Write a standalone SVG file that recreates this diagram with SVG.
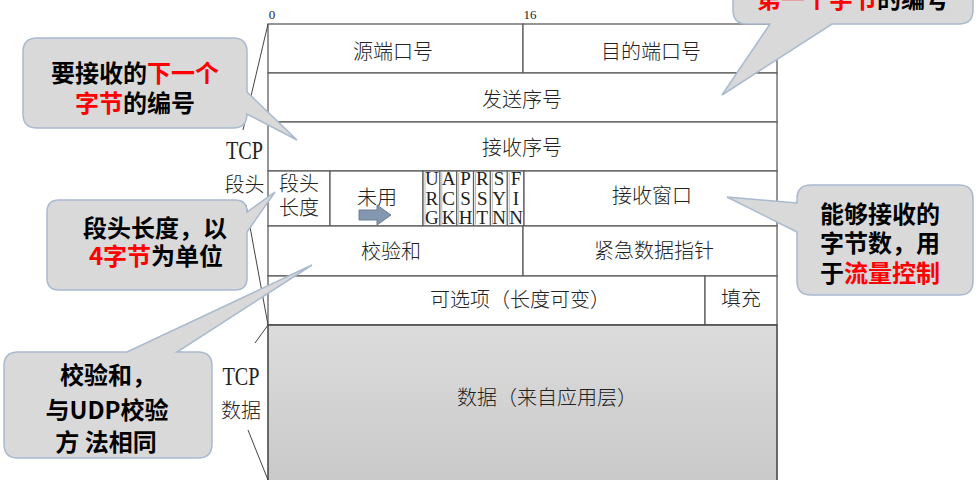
<svg xmlns="http://www.w3.org/2000/svg" width="977" height="480" viewBox="0 0 977 480">
<style>
.ln{stroke:#5e5e5e;stroke-width:1.3;fill:none}
.cell{fill:#ffffff;stroke:#5e5e5e;stroke-width:1.3}
.t{font-family:"Noto Sans CJK SC","Noto Sans",sans-serif;font-size:20px;font-weight:300;fill:#222;text-anchor:middle}
.s{font-family:"Liberation Serif","DejaVu Serif",serif;fill:#222;text-anchor:middle}
.fl{font-family:"Liberation Serif","DejaVu Serif",serif;font-size:19px;fill:#222;text-anchor:middle}
.co{fill:#d9d9d9;stroke:#a9b9cf;stroke-width:1.5}
.ct{font-family:"Noto Sans CJK SC","Liberation Sans",sans-serif;font-size:24px;font-weight:bold;fill:#000;text-anchor:middle}
.r{fill:#ff0000}
.br{stroke:#444;stroke-width:1;fill:none}
</style>
<defs>
<linearGradient id="gd" x1="0" y1="0" x2="0" y2="1">
<stop offset="0" stop-color="#dcdcdc"/>
<stop offset="1" stop-color="#c9c9c9"/>
</linearGradient>
</defs>
<rect width="977" height="480" fill="#ffffff"/>

<g id="scale">
<text class="s" x="272" y="19" font-size="13">0</text>
<text class="s" x="530" y="19" font-size="13">16</text>
</g>

<g id="row1">
<rect id="src-port" class="cell" x="268" y="24" width="255" height="49"/>
<text class="t" x="393" y="59">源端口号</text>
<rect id="dst-port" class="cell" x="523" y="24" width="254" height="49"/>
<text class="t" x="651" y="59">目的端口号</text>
</g>
<g id="seq">
<rect class="cell" x="268" y="73" width="509" height="49"/>
<text class="t" x="522" y="107">发送序号</text>
</g>
<g id="ack">
<rect class="cell" x="268" y="122" width="509" height="49"/>
<text class="t" x="522" y="155">接收序号</text>
</g>
<g id="row4">
<rect id="hlen" class="cell" x="268" y="171" width="62" height="55"/>
<text class="t" x="299" y="191" font-size="16">段头</text>
<text class="t" x="299" y="215" font-size="16">长度</text>
<rect id="unused" class="cell" x="330" y="171" width="93" height="55"/>
<text class="t" x="377" y="205">未用</text>
<path d="M359,210 H377 V205 L391,215 L377,225 V220 H359 Z" fill="#8497b0" stroke="#6d7f95" stroke-width="1"/>
<g id="flags">
<rect class="cell" x="423" y="171" width="101" height="55"/>
<path class="ln" d="M439.8,171V226M456.7,171V226M473.5,171V226M490.3,171V226M507.2,171V226"/>
<path d="M425,172.5V224.5M441.8,172.5V224.5M458.7,172.5V224.5M475.5,172.5V224.5M492.3,172.5V224.5M509.2,172.5V224.5" stroke="#999" stroke-width="0.7" fill="none"/>
<text class="fl" x="431.8" y="185">U</text><text class="fl" x="431.8" y="204.5">R</text><text class="fl" x="431.8" y="224">G</text>
<text class="fl" x="448.6" y="185">A</text><text class="fl" x="448.6" y="204.5">C</text><text class="fl" x="448.6" y="224">K</text>
<text class="fl" x="465.5" y="185">P</text><text class="fl" x="465.5" y="204.5">S</text><text class="fl" x="465.5" y="224">H</text>
<text class="fl" x="482.3" y="185">R</text><text class="fl" x="482.3" y="204.5">S</text><text class="fl" x="482.3" y="224">T</text>
<text class="fl" x="499.1" y="185">S</text><text class="fl" x="499.1" y="204.5">Y</text><text class="fl" x="499.1" y="224">N</text>
<text class="fl" x="516" y="185">F</text><text class="fl" x="516" y="204.5">I</text><text class="fl" x="516" y="224">N</text>
</g>
<rect id="window" class="cell" x="524" y="171" width="253" height="55"/>
<text class="t" x="652" y="203">接收窗口</text>
</g>
<g id="row5">
<rect id="checksum" class="cell" x="268" y="226" width="255" height="50"/>
<text class="t" x="391" y="259">校验和</text>
<rect id="urgent" class="cell" x="523" y="226" width="254" height="50"/>
<text class="t" x="654" y="258">紧急数据指针</text>
</g>
<g id="row6">
<rect id="options" class="cell" x="268" y="276" width="437" height="49"/>
<text class="t" x="520" y="307">可选项（长度可变）</text>
<rect id="padding" class="cell" x="705" y="276" width="72" height="49"/>
<text class="t" x="741" y="306">填充</text>
</g>
<g id="data">
<rect x="268" y="325" width="509" height="160" fill="url(#gd)" stroke="#4a4a4a" stroke-width="1.6"/>
<text class="t" x="547" y="405">数据（来自应用层）</text>
</g>

<g id="connectors">
<path class="br" d="M268,24 L243,130"/>
<path class="br" d="M246,205 L268,325"/>
<path class="br" d="M268,325 L255,343"/>
<path class="br" d="M248,430 L268,480"/>
</g>

<g id="label-header">
<text class="s" x="244.5" y="159" font-size="25" textLength="37" lengthAdjust="spacingAndGlyphs">TCP</text>
<text class="t" x="244.5" y="192" font-size="19">段头</text>
</g>
<g id="label-data">
<text class="s" x="241" y="385" font-size="25" textLength="37" lengthAdjust="spacingAndGlyphs">TCP</text>
<text class="t" x="241" y="418" font-size="19">数据</text>
</g>

<g id="callout-ack">
<path class="co" d="M37,38 H233 Q247,38 247,52 V92 L297,140 L247,114 Q247,128 233,128 H37 Q23,128 23,114 V52 Q23,38 37,38 Z"/>
<text class="ct" x="135" y="82">要接收的<tspan class="r">下一个</tspan></text>
<text class="ct" x="135" y="112"><tspan class="r">字节</tspan>的编号</text>
</g>
<g id="callout-hlen">
<path class="co" d="M59,200 H235 Q247,200 247,212 L275,192 L247,232 V278 Q247,290 235,290 H59 Q47,290 47,278 V212 Q47,200 59,200 Z"/>
<text class="ct" x="155" y="237">段头长度，以</text>
<text class="ct" x="156" y="265"><tspan class="r">4字节</tspan>为单位</text>
</g>
<g id="callout-checksum">
<path class="co" d="M18,352 H127 L312,265 L177,352 H198 Q212,352 212,366 V444 Q212,458 198,458 H18 Q4,458 4,444 V366 Q4,352 18,352 Z"/>
<text class="ct" x="108" y="384">校验和，</text>
<text class="ct" x="107" y="419">与UDP校验</text>
<text class="ct" x="106" y="451">方 法相同</text>
</g>
<g id="callout-window">
<path class="co" d="M811,185 H959 Q973,185 973,199 V281 Q973,295 959,295 H811 Q797,295 797,281 V232 L727,197 L797,203 V199 Q797,185 811,185 Z"/>
<text class="ct" x="880" y="223">能够接收的</text>
<text class="ct" x="880" y="252">字节数，用</text>
<text class="ct" x="880" y="282">于<tspan class="r">流量控制</tspan></text>
</g>
<g id="callout-seq">
<path class="co" d="M747,-40 H959 Q973,-40 973,-26 V10 Q973,24 959,24 H832 L722,95 L770,24 H747 Q733,24 733,10 V-26 Q733,-40 747,-40 Z"/>
<text class="ct" x="853" y="8"><tspan class="r">第一个字节</tspan>的编号</text>
</g>
</svg>
